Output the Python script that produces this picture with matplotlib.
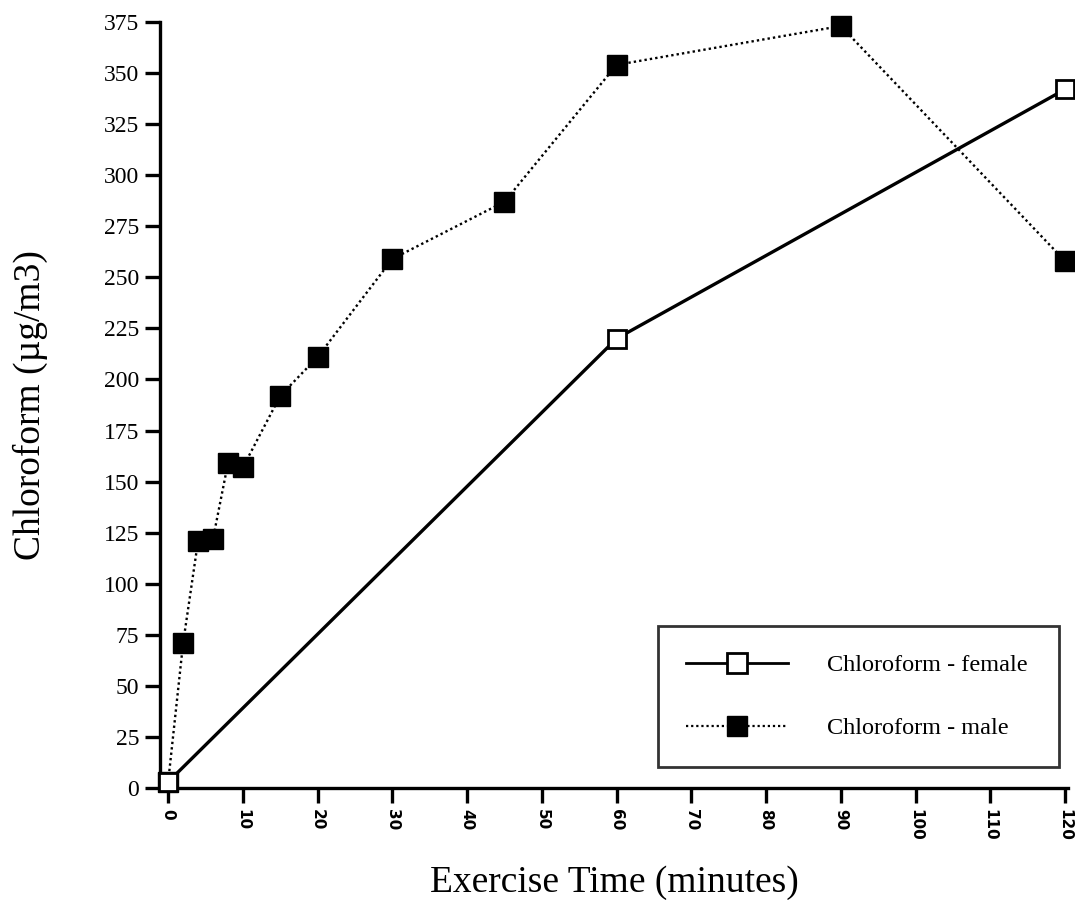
import matplotlib
matplotlib.use("Agg")
import matplotlib.pyplot as plt
from matplotlib.lines import Line2D

# exercise time (minutes) and chloroform concentration (ug/m3)
female_time = [0, 60, 120]
female_conc = [3, 220, 342]

male_time = [0, 2, 4, 6, 8, 10, 15, 20, 30, 45, 60, 90, 120]
male_conc = [3, 71, 121, 122, 159, 157, 192, 211, 259, 287, 354, 373, 258]

x_ticks = list(range(0, 121, 10))
y_ticks = list(range(0, 376, 25))

plt.rcParams["font.family"] = ["Liberation Serif", "DejaVu Serif"]

fig = plt.figure(figsize=(10.75, 9), dpi=100)
ax = fig.add_axes([0.149, 0.1244, 0.8445, 0.8512])

ax.plot(male_time, male_conc, color="black", linestyle=(0, (1, 1.3)), linewidth=1.7,
        marker="s", markersize=14.5, markerfacecolor="black", markeredgecolor="black",
        clip_on=False, zorder=3)
ax.plot(female_time, female_conc, color="black", linestyle="-", linewidth=2.4,
        marker="s", markersize=13.5, markerfacecolor="white", markeredgecolor="black",
        markeredgewidth=2, clip_on=False, zorder=4)

ax.set_xlim(-1.07, 120.4)
ax.set_ylim(0, 375)
ax.set_xticks(x_ticks)
ax.set_yticks(y_ticks)
ax.set_xticklabels([str(t) for t in x_ticks], rotation=270, fontsize=11,
                   fontweight="bold", family="DejaVu Sans")
ax.set_yticklabels([str(t) for t in y_ticks], fontsize=17)

for side in ["top", "right"]:
    ax.spines[side].set_visible(False)
for side in ["left", "bottom"]:
    ax.spines[side].set_linewidth(2.4)
ax.tick_params(axis="both", direction="out", length=11, width=2.4, pad=4)

ax.set_xlabel("Exercise Time (minutes)", fontsize=27, labelpad=18)
ax.set_ylabel("Chloroform (\u00b5g/m3)", fontsize=27, labelpad=40)

handles = [
    Line2D([], [], color="black", linestyle="-", linewidth=2, marker="s", markersize=14,
           markerfacecolor="white", markeredgecolor="black", markeredgewidth=2),
    Line2D([], [], color="black", linestyle=(0, (1, 1.3)), linewidth=1.6, marker="s",
           markersize=14.5, markerfacecolor="black", markeredgecolor="black"),
]
leg = ax.legend(handles, ["Chloroform - female", "Chloroform - male"],
                loc="lower left", bbox_to_anchor=(0.548, 0.027, 0.442, 0.18), mode="expand",
                fontsize=17.5, frameon=True, fancybox=False, edgecolor="black",
                handlelength=4.2, handletextpad=1.6, labelspacing=1.7,
                borderpad=1.15, borderaxespad=0)
leg.get_frame().set_linewidth(2)

fig.savefig("out.png", dpi=100)
